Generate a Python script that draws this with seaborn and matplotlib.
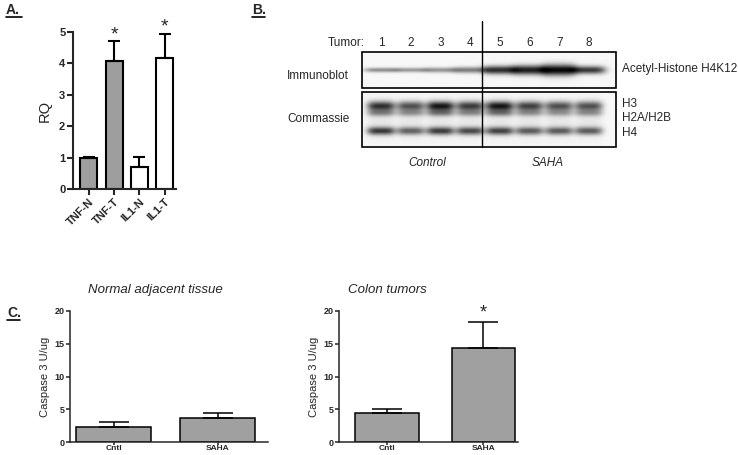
import numpy as np
import matplotlib
matplotlib.use("Agg")
import matplotlib.pyplot as plt
from matplotlib.lines import Line2D
from matplotlib.patches import Rectangle
import seaborn as sns

# panel A: qPCR relative quantity
a_labels = ["TNF-N", "TNF-T", "IL1-N", "IL1-T"]
a_means = [1.0, 4.08, 0.70, 4.18]
a_sem = [0.02, 0.62, 0.32, 0.75]
a_colors = ["#9e9e9e", "#9e9e9e", "white", "white"]
a_sig = [False, True, False, True]

# panel B: blot band darkness per lane (0 = none, 1 = black)
lanes = ["1", "2", "3", "4", "5", "6", "7", "8"]
ib_dark = [0.42, 0.38, 0.40, 0.48, 0.80, 0.86, 0.95, 0.75]
ib_sigma = [1.6, 1.6, 1.8, 2.2, 3.0, 3.4, 4.0, 2.8]
h3_dark = [0.75, 0.62, 0.85, 0.70, 0.85, 0.68, 0.62, 0.62]
h2_dark = [0.35, 0.30, 0.40, 0.32, 0.40, 0.30, 0.28, 0.30]
h4_dark = [0.72, 0.55, 0.70, 0.65, 0.68, 0.58, 0.58, 0.58]

# panel C: caspase 3 activity
c_labels = ["Cntl", "SAHA"]
normal_means = [2.3, 3.6]
normal_sem = [0.8, 0.9]
tumor_means = [4.5, 14.4]
tumor_sem = [0.5, 3.9]
bar_gray = "#a0a0a0"

sns.set_style("ticks")
plt.rcParams["font.family"] = ["Liberation Sans", "DejaVu Sans"]

W, H = 738, 455
fig = plt.figure(figsize=(W / 100, H / 100), dpi=100)


def ax_at(x0, y0, x1, y1):
    return fig.add_axes([x0 / W, 1 - y1 / H, (x1 - x0) / W, (y1 - y0) / H])


def panel_label(txt, x, y, ul):
    fig.text(x / W, 1 - y / H, txt, fontsize=10, fontweight="bold", va="center", ha="left")
    fig.add_artist(Line2D([x / W, (x + ul) / W], [1 - (y + 7) / H] * 2, color="black", lw=1.2))


def prism_bars(ax, labels, means, sem, colors, lw, capsize, fs_y, fs_x):
    sns.barplot(x=labels, y=means, hue=labels, palette=colors, legend=False,
                saturation=1, edgecolor="black", linewidth=lw, ax=ax)
    ax.errorbar(np.arange(len(means)), means, yerr=[np.zeros(len(sem)), sem], fmt="none",
                ecolor="black", elinewidth=lw, capsize=capsize, capthick=lw, clip_on=False)
    sns.despine(ax=ax)
    for s in ("left", "bottom"):
        ax.spines[s].set_linewidth(lw)
    ax.tick_params(width=lw, length=4, direction="out", pad=1.5)
    ax.tick_params(axis="y", labelsize=fs_y)
    ax.tick_params(axis="x", labelsize=fs_x)
    for t in ax.get_xticklabels() + ax.get_yticklabels():
        t.set_fontweight("bold")
    ax.set_xlabel("")


# ---- A ----
panel_label("A.", 6, 10, 16)
axA = ax_at(73, 32, 176, 189)
prism_bars(axA, a_labels, a_means, a_sem, a_colors, 1.5, 4, 8, 8)
# narrower bars
for p in axA.patches:
    cx = p.get_x() + p.get_width() / 2
    p.set_width(0.67)
    p.set_x(cx - 0.335)
axA.set_ylim(0, 5)
axA.set_yticks(range(6))
axA.set_xlim(-0.63, 3.45)
axA.set_ylabel("RQ", fontsize=10.5, labelpad=5)
plt.setp(axA.get_xticklabels(), rotation=45, ha="right", rotation_mode="anchor")
for i, s in enumerate(a_sig):
    if s:
        axA.text(i, a_means[i] + a_sem[i] - 0.05, "*", ha="center", va="bottom",
                 fontsize=14, clip_on=False)

# ---- B ----
panel_label("B.", 252, 10, 13)
axB = ax_at(240, 0, 738, 240)
axB.axis("off")

lane_x = 381 + 29.7 * np.arange(len(lanes))


def gel(x0, x1, y0, y1, bands, w):
    xs = np.linspace(x0, x1, 500)
    ys = np.linspace(y0, y1, 160)
    X, Y = np.meshgrid(xs, ys)
    d = np.full(X.shape, 0.03)
    for yc, sig, dark in bands:
        for i, xc in enumerate(lane_x):
            px = np.exp(-np.abs((X - xc) / w) ** 4)
            py = np.exp(-0.5 * ((Y - yc) / sig[i]) ** 2)
            d += dark[i] * px * py
    return 1 - np.clip(d, 0, 1)


img1 = gel(362, 616, 52, 88, [(70, ib_sigma, ib_dark)], 17)
img2 = gel(362, 616, 92, 147, [(106, [3.4] * 8, h3_dark), (113, [2.4] * 8, h2_dark),
                               (131, [2.8] * 8, h4_dark), (120, [14] * 8, [0.06] * 8)], 14)
for img, (ya, yb) in ((img1, (52, 88)), (img2, (92, 147))):
    axB.imshow(img, cmap="gray", vmin=0, vmax=1, extent=(362, 616, yb, ya),
               aspect="auto", interpolation="bilinear")
    axB.add_patch(Rectangle((362, ya), 254, yb - ya, fill=False, ec="black", lw=1.2))
axB.plot([482, 482], [21, 147], color="black", lw=1)
axB.set_xlim(240, 738)
axB.set_ylim(240, 0)

fsB = 8.5
axB.text(365, 43, "Tumor:", ha="right", va="center", fontsize=fsB)
for i, lab in enumerate(lanes):
    axB.text(lane_x[i], 43, lab, ha="center", va="center", fontsize=fsB)
axB.text(318, 76, "Immunoblot", ha="center", va="center", fontsize=fsB)
axB.text(318, 119, "Commassie", ha="center", va="center", fontsize=fsB)
axB.text(622, 69, "Acetyl-Histone H4K12", ha="left", va="center", fontsize=fsB)
for lab, y in (("H3", 104), ("H2A/H2B", 118), ("H4", 133)):
    axB.text(622, y, lab, ha="left", va="center", fontsize=fsB)
axB.text(427, 163, "Control", ha="center", va="center", fontsize=fsB, style="italic")
axB.text(548, 163, "SAHA", ha="center", va="center", fontsize=fsB, style="italic")

# ---- C ----
panel_label("C.", 7, 313, 13)
for (x0, x1), means, sem, title, tx, xr, bw in (
        ((70, 268), normal_means, normal_sem, "Normal adjacent tissue", 155, (-0.42, 1.48), 0.72),
        ((339, 518), tumor_means, tumor_sem, "Colon tumors", 387, (-0.5, 1.36), 0.66)):
    ax = ax_at(x0, 311, x1, 442)
    prism_bars(ax, c_labels, means, sem, [bar_gray] * 2, 1.1, 11, 6.5, 6)
    for p in ax.patches:
        cx = p.get_x() + p.get_width() / 2
        p.set_width(bw)
        p.set_x(cx - bw / 2)
    ax.set_ylim(0, 20)
    ax.set_yticks([0, 5, 10, 15, 20])
    ax.set_xlim(*xr)
    ax.set_ylabel("Caspase 3 U/ug", fontsize=8, labelpad=3)
    ax.tick_params(axis="y", length=3, pad=1)
    ax.tick_params(axis="x", length=2, pad=0)
    fig.text(tx / W, 1 - 290 / H, title, ha="center", va="center", fontsize=9.5, style="italic")
    if means[1] > 10:
        ax.text(1, means[1] + sem[1] + 0.1, "*", ha="center", va="bottom", fontsize=13, clip_on=False)

fig.savefig("out.png", dpi=100)
